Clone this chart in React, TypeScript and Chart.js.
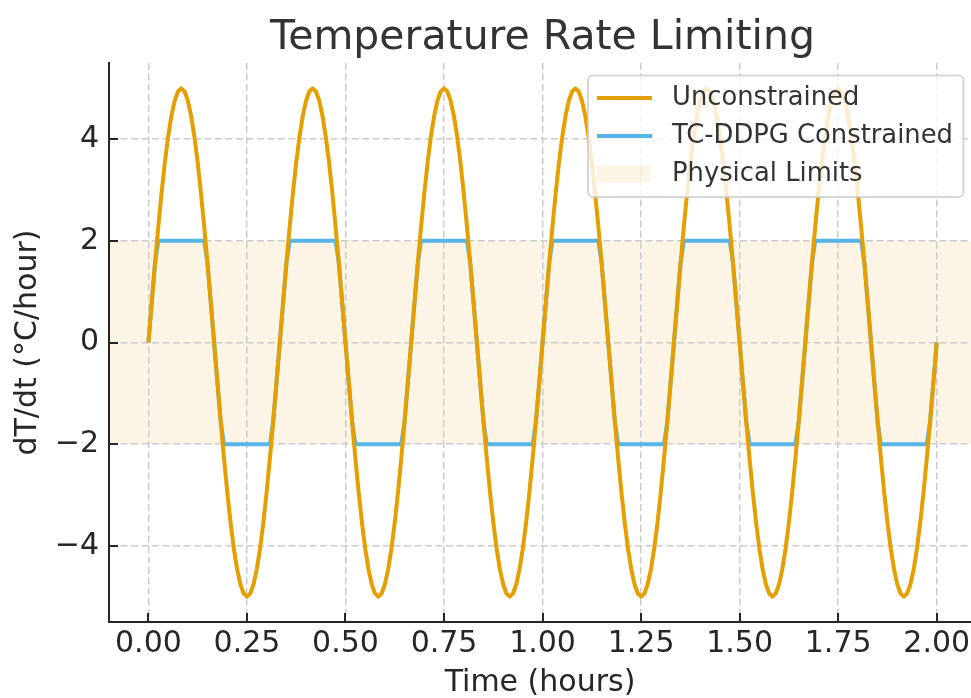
import React, { useEffect, useRef } from "react";
import { Chart, registerables } from "chart.js";

Chart.register(...registerables);

const chartTitle = "Temperature Rate Limiting";
const xAxisTitle = "Time (hours)";
const yAxisTitle = "dT/dt (°C/hour)";
const seriesNames = ["Unconstrained", "TC-DDPG Constrained", "Physical Limits"];

// sample times in minutes (converted to hours for the axis)
const timeMinutes = [
  0, 0.5, 1, 1.5, 2, 2.5, 3, 3.5, 4, 4.5, 5, 5.5, 6, 6.5, 7, 7.5, 8, 8.5, 9, 9.5,
  10, 10.5, 11, 11.5, 12, 12.5, 13, 13.5, 14, 14.5, 15, 15.5, 16, 16.5, 17, 17.5, 18, 18.5, 19, 19.5,
  20, 20.5, 21, 21.5, 22, 22.5, 23, 23.5, 24, 24.5, 25, 25.5, 26, 26.5, 27, 27.5, 28, 28.5, 29, 29.5,
  30, 30.5, 31, 31.5, 32, 32.5, 33, 33.5, 34, 34.5, 35, 35.5, 36, 36.5, 37, 37.5, 38, 38.5, 39, 39.5,
  40, 40.5, 41, 41.5, 42, 42.5, 43, 43.5, 44, 44.5, 45, 45.5, 46, 46.5, 47, 47.5, 48, 48.5, 49, 49.5,
  50, 50.5, 51, 51.5, 52, 52.5, 53, 53.5, 54, 54.5, 55, 55.5, 56, 56.5, 57, 57.5, 58, 58.5, 59, 59.5,
  60, 60.5, 61, 61.5, 62, 62.5, 63, 63.5, 64, 64.5, 65, 65.5, 66, 66.5, 67, 67.5, 68, 68.5, 69, 69.5,
  70, 70.5, 71, 71.5, 72, 72.5, 73, 73.5, 74, 74.5, 75, 75.5, 76, 76.5, 77, 77.5, 78, 78.5, 79, 79.5,
  80, 80.5, 81, 81.5, 82, 82.5, 83, 83.5, 84, 84.5, 85, 85.5, 86, 86.5, 87, 87.5, 88, 88.5, 89, 89.5,
  90, 90.5, 91, 91.5, 92, 92.5, 93, 93.5, 94, 94.5, 95, 95.5, 96, 96.5, 97, 97.5, 98, 98.5, 99, 99.5,
  100, 100.5, 101, 101.5, 102, 102.5, 103, 103.5, 104, 104.5, 105, 105.5, 106, 106.5, 107, 107.5, 108, 108.5, 109, 109.5,
  110, 110.5, 111, 111.5, 112, 112.5, 113, 113.5, 114, 114.5, 115, 115.5, 116, 116.5, 117, 117.5, 118, 118.5, 119, 119.5,
  120,
];

const unconstrainedRate = [
  0, 0.78, 1.55, 2.27, 2.94, 3.54, 4.05, 4.46, 4.76, 4.94, 5.0, 4.94, 4.76, 4.46, 4.05, 3.54, 2.94, 2.27, 1.55, 0.78,
  0, -0.78, -1.55, -2.27, -2.94, -3.54, -4.05, -4.46, -4.76, -4.94, -5.0, -4.94, -4.76, -4.46, -4.05, -3.54, -2.94, -2.27, -1.55, -0.78,
  0, 0.78, 1.55, 2.27, 2.94, 3.54, 4.05, 4.46, 4.76, 4.94, 5.0, 4.94, 4.76, 4.46, 4.05, 3.54, 2.94, 2.27, 1.55, 0.78,
  0, -0.78, -1.55, -2.27, -2.94, -3.54, -4.05, -4.46, -4.76, -4.94, -5.0, -4.94, -4.76, -4.46, -4.05, -3.54, -2.94, -2.27, -1.55, -0.78,
  0, 0.78, 1.55, 2.27, 2.94, 3.54, 4.05, 4.46, 4.76, 4.94, 5.0, 4.94, 4.76, 4.46, 4.05, 3.54, 2.94, 2.27, 1.55, 0.78,
  0, -0.78, -1.55, -2.27, -2.94, -3.54, -4.05, -4.46, -4.76, -4.94, -5.0, -4.94, -4.76, -4.46, -4.05, -3.54, -2.94, -2.27, -1.55, -0.78,
  0, 0.78, 1.55, 2.27, 2.94, 3.54, 4.05, 4.46, 4.76, 4.94, 5.0, 4.94, 4.76, 4.46, 4.05, 3.54, 2.94, 2.27, 1.55, 0.78,
  0, -0.78, -1.55, -2.27, -2.94, -3.54, -4.05, -4.46, -4.76, -4.94, -5.0, -4.94, -4.76, -4.46, -4.05, -3.54, -2.94, -2.27, -1.55, -0.78,
  0, 0.78, 1.55, 2.27, 2.94, 3.54, 4.05, 4.46, 4.76, 4.94, 5.0, 4.94, 4.76, 4.46, 4.05, 3.54, 2.94, 2.27, 1.55, 0.78,
  0, -0.78, -1.55, -2.27, -2.94, -3.54, -4.05, -4.46, -4.76, -4.94, -5.0, -4.94, -4.76, -4.46, -4.05, -3.54, -2.94, -2.27, -1.55, -0.78,
  0, 0.78, 1.55, 2.27, 2.94, 3.54, 4.05, 4.46, 4.76, 4.94, 5.0, 4.94, 4.76, 4.46, 4.05, 3.54, 2.94, 2.27, 1.55, 0.78,
  0, -0.78, -1.55, -2.27, -2.94, -3.54, -4.05, -4.46, -4.76, -4.94, -5.0, -4.94, -4.76, -4.46, -4.05, -3.54, -2.94, -2.27, -1.55, -0.78,
  0,
];

const constrainedRate = [
  0, 0.78, 1.55, 2, 2, 2, 2, 2, 2, 2, 2, 2, 2, 2, 2, 2, 2, 2, 1.55, 0.78,
  0, -0.78, -1.55, -2, -2, -2, -2, -2, -2, -2, -2, -2, -2, -2, -2, -2, -2, -2, -1.55, -0.78,
  0, 0.78, 1.55, 2, 2, 2, 2, 2, 2, 2, 2, 2, 2, 2, 2, 2, 2, 2, 1.55, 0.78,
  0, -0.78, -1.55, -2, -2, -2, -2, -2, -2, -2, -2, -2, -2, -2, -2, -2, -2, -2, -1.55, -0.78,
  0, 0.78, 1.55, 2, 2, 2, 2, 2, 2, 2, 2, 2, 2, 2, 2, 2, 2, 2, 1.55, 0.78,
  0, -0.78, -1.55, -2, -2, -2, -2, -2, -2, -2, -2, -2, -2, -2, -2, -2, -2, -2, -1.55, -0.78,
  0, 0.78, 1.55, 2, 2, 2, 2, 2, 2, 2, 2, 2, 2, 2, 2, 2, 2, 2, 1.55, 0.78,
  0, -0.78, -1.55, -2, -2, -2, -2, -2, -2, -2, -2, -2, -2, -2, -2, -2, -2, -2, -1.55, -0.78,
  0, 0.78, 1.55, 2, 2, 2, 2, 2, 2, 2, 2, 2, 2, 2, 2, 2, 2, 2, 1.55, 0.78,
  0, -0.78, -1.55, -2, -2, -2, -2, -2, -2, -2, -2, -2, -2, -2, -2, -2, -2, -2, -1.55, -0.78,
  0, 0.78, 1.55, 2, 2, 2, 2, 2, 2, 2, 2, 2, 2, 2, 2, 2, 2, 2, 1.55, 0.78,
  0, -0.78, -1.55, -2, -2, -2, -2, -2, -2, -2, -2, -2, -2, -2, -2, -2, -2, -2, -1.55, -0.78,
  0,
];

const physicalLimits = [-2, 2];

const xTickValues = [0, 0.25, 0.5, 0.75, 1.0, 1.25, 1.5, 1.75, 2.0];
const xTickLabels = ["0.00", "0.25", "0.50", "0.75", "1.00", "1.25", "1.50", "1.75", "2.00"];
const yTickValues = [-4, -2, 0, 2, 4];
const yTickLabels = ["\u22124", "\u22122", "0", "2", "4"];

const ORANGE = "#E69F00";
const BLUE = "#56B4E9";
const BAND = "rgba(230,159,0,0.1)";
const INK = "#262626";
const FONT = "'DejaVu Sans', sans-serif";
const LINE_W = 4;

const bandPlugin = {
  id: "band",
  beforeDraw(chart: any) {
    const { ctx, chartArea, scales } = chart;
    const y = scales.y;
    const top = y.getPixelForValue(physicalLimits[1]);
    const bot = y.getPixelForValue(physicalLimits[0]);
    ctx.save();
    ctx.fillStyle = BAND;
    ctx.fillRect(chartArea.left, top, chartArea.right - chartArea.left, bot - top);
    ctx.restore();
  },
};

const ticksPlugin = {
  id: "inTicks",
  afterDatasetsDraw(chart: any) {
    const { ctx, chartArea, scales } = chart;
    ctx.save();
    ctx.strokeStyle = INK;
    ctx.lineWidth = 2;
    ctx.beginPath();
    for (const v of xTickValues) {
      const px = Math.round(scales.x.getPixelForValue(v));
      ctx.moveTo(px, chartArea.bottom);
      ctx.lineTo(px, chartArea.bottom - 9);
    }
    for (const v of yTickValues) {
      const py = Math.round(scales.y.getPixelForValue(v));
      ctx.moveTo(chartArea.left, py);
      ctx.lineTo(chartArea.left + 9, py);
    }
    ctx.stroke();
    ctx.restore();
  },
};

const overlayPlugin = {
  id: "overlay",
  afterDraw(chart: any) {
    const { ctx, chartArea } = chart;
    ctx.save();
    // title
    ctx.fillStyle = "#333333";
    ctx.font = `41px ${FONT}`;
    ctx.textAlign = "center";
    ctx.textBaseline = "alphabetic";
    ctx.fillText(chartTitle, (chartArea.left + chartArea.right + 5) / 2, chartArea.top - 14);

    // legend
    const right = chartArea.right - 7.5;
    const top = chartArea.top + 12.5;
    const w = 375.5;
    const h = 121.5;
    const left = right - w;
    ctx.beginPath();
    ctx.roundRect(left, top, w, h, 5);
    ctx.fillStyle = "rgba(255,255,255,0.8)";
    ctx.fill();
    ctx.strokeStyle = "rgba(204,204,204,0.8)";
    ctx.lineWidth = 2;
    ctx.stroke();

    const rows = [top + 22.5, top + 60.5, top + 98.5];
    ctx.lineWidth = LINE_W;
    ctx.strokeStyle = ORANGE;
    ctx.beginPath();
    ctx.moveTo(left + 9, rows[0]);
    ctx.lineTo(left + 64, rows[0]);
    ctx.stroke();
    ctx.strokeStyle = BLUE;
    ctx.beginPath();
    ctx.moveTo(left + 9, rows[1]);
    ctx.lineTo(left + 64, rows[1]);
    ctx.stroke();
    ctx.fillStyle = BAND;
    ctx.fillRect(left + 9, rows[2] - 8.5, 53, 17);

    ctx.fillStyle = "#333333";
    ctx.font = `25.8px ${FONT}`;
    ctx.textAlign = "left";
    ctx.textBaseline = "middle";
    seriesNames.forEach((name, i) => ctx.fillText(name, left + 84, rows[i] + 0.5));
    ctx.restore();
  },
};

export default function App() {
  const canvasRef = useRef<HTMLCanvasElement | null>(null);

  useEffect(() => {
    if (!canvasRef.current) return;
    const toHours = (m: number) => m / 60;
    const chart = new Chart(canvasRef.current, {
      type: "line",
      data: {
        datasets: [
          {
            label: seriesNames[0],
            data: timeMinutes.map((m, i) => ({ x: toHours(m), y: unconstrainedRate[i] })),
            borderColor: ORANGE,
            backgroundColor: ORANGE,
            borderWidth: LINE_W,
            pointRadius: 0,
            tension: 0,
            borderJoinStyle: "round",
            fill: false,
          },
          {
            label: seriesNames[1],
            data: timeMinutes.map((m, i) => ({ x: toHours(m), y: constrainedRate[i] })),
            borderColor: BLUE,
            backgroundColor: BLUE,
            borderWidth: LINE_W,
            pointRadius: 0,
            tension: 0,
            borderJoinStyle: "round",
            fill: false,
          },
        ],
      },
      options: {
        responsive: false,
        animation: false,
        devicePixelRatio: 1,
        layout: { padding: { top: 63, left: 0, right: 0, bottom: 0 } },
        plugins: {
          legend: { display: false },
          title: { display: false },
          tooltip: { enabled: false },
        },
        scales: {
          x: {
            type: "linear",
            min: -0.1,
            max: 2.087,
            afterBuildTicks: (s: any) => {
              s.ticks = xTickValues.map((v) => ({ value: v }));
            },
            afterFit: (s: any) => {
              s.height = 76;
              s.paddingLeft = 0;
              s.paddingRight = 0;
            },
            ticks: {
              autoSkip: false,
              maxRotation: 0,
              padding: 4,
              color: INK,
              font: { family: FONT, size: 30 },
              callback: (_v: any, i: number) => xTickLabels[i],
            },
            grid: { color: "#cccccc", lineWidth: 1.5, drawTicks: false },
            border: { display: true, color: INK, width: 2, dash: [7, 3.5] },
            title: {
              display: true,
              text: xAxisTitle,
              color: INK,
              font: { family: FONT, size: 30, lineHeight: 1 },
              padding: { top: 0, bottom: 0 },
            },
          },
          y: {
            type: "linear",
            min: -5.5,
            max: 5.5,
            afterBuildTicks: (s: any) => {
              s.ticks = yTickValues.map((v) => ({ value: v }));
            },
            afterFit: (s: any) => {
              s.width = 109;
              s.paddingTop = 0;
              s.paddingBottom = 0;
            },
            ticks: {
              padding: 10,
              color: INK,
              font: { family: FONT, size: 30 },
              callback: (_v: any, i: number) => yTickLabels[i],
            },
            grid: { color: "#cccccc", lineWidth: 1.5, drawTicks: false },
            border: { display: true, color: INK, width: 2, dash: [7, 3.5] },
            title: {
              display: true,
              text: yAxisTitle,
              color: INK,
              font: { family: FONT, size: 30, lineHeight: 1.2 },
              padding: { top: 10, bottom: 0 },
            },
          },
        },
      },
      plugins: [bandPlugin, ticksPlugin, overlayPlugin],
    } as any);
    return () => chart.destroy();
  }, []);

  return (
    <div style={{ position: "fixed", left: 0, top: 0, width: 971, height: 698, background: "#ffffff" }}>
      <canvas ref={canvasRef} width={971} height={698} style={{ display: "block" }} />
    </div>
  );
}
